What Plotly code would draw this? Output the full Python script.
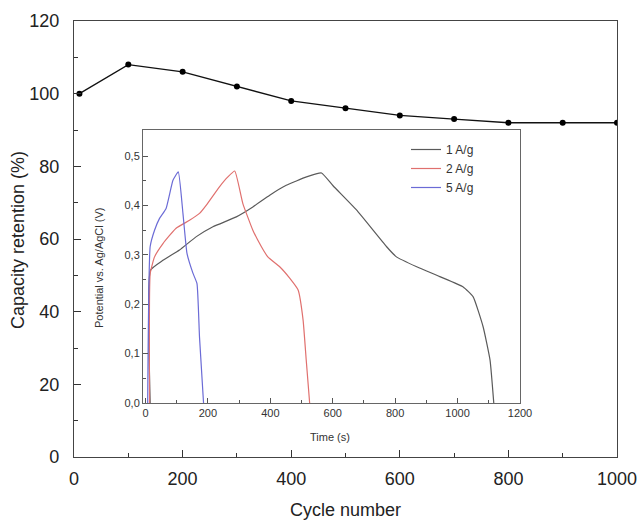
import plotly.graph_objects as go

# Main chart data
cycles = [10, 100, 200, 300, 400, 500, 600, 700, 800, 900, 1000]
retention = [100, 108, 106, 102, 98, 96, 94, 93, 92, 92, 92]

# Inset GCD curves
t_1 = [15, 16, 56, 109, 163, 216, 291, 344, 398, 451, 516, 564, 601, 676, 772, 804, 869, 943, 1018, 1050, 1082, 1104, 1116]
v_1 = [0.0, 0.269, 0.289, 0.31, 0.337, 0.357, 0.377, 0.397, 0.421, 0.441, 0.458, 0.466, 0.440, 0.391, 0.317, 0.296, 0.276, 0.256, 0.235, 0.215, 0.154, 0.087, 0.0]
t_2 = [13, 15, 29, 56, 98, 141, 173, 195, 237, 264, 286, 312, 344, 371, 392, 430, 462, 489, 505, 515, 526]
v_2 = [0.0, 0.262, 0.296, 0.323, 0.354, 0.37, 0.384, 0.401, 0.438, 0.458, 0.47, 0.404, 0.35, 0.317, 0.296, 0.276, 0.253, 0.229, 0.168, 0.087, 0.0]
t_5 = [7, 15, 29, 45, 66, 88, 105, 120, 133, 152, 165, 173, 186]
v_5 = [0.0, 0.317, 0.35, 0.374, 0.394, 0.451, 0.468, 0.384, 0.303, 0.263, 0.242, 0.134, 0.0]

series_names = ["1 A/g", "2 A/g", "5 A/g"]
series_colors = ["#5a5a5a", "#e0706e", "#6b6bd6"]

inset_yticks = [0.0, 0.1, 0.2, 0.3, 0.4, 0.5]
inset_yticktext = ["0,0", "0,1", "0,2", "0,3", "0,4", "0,5"]

FONT = "Liberation Sans, Arial, sans-serif"

fig = go.Figure()
fig.add_trace(go.Scatter(x=cycles, y=retention, mode="lines+markers",
                         line=dict(color="#111111", width=1.3),
                         marker=dict(color="#000000", size=6),
                         showlegend=False, xaxis="x", yaxis="y"))

for t, v, n, c in zip([t_1, t_2, t_5], [v_1, v_2, v_5], series_names, series_colors):
    fig.add_trace(go.Scatter(x=t, y=v, mode="lines", name=n,
                             line=dict(color=c, width=1.2, shape="spline", smoothing=0.4),
                             xaxis="x2", yaxis="y2"))

# geometry
W, H = 638, 521
L, R, T, B = 74, 21, 21, 64
pw, ph = W - L - R, H - T - B

def px_x(p):
    return (p - L) / pw

def px_y(p):
    return (H - B - p) / ph

fig.update_layout(
    width=W, height=H,
    margin=dict(l=L, r=R, t=T, b=B, autoexpand=False),
    paper_bgcolor="white", plot_bgcolor="white",
    font=dict(family=FONT, color="#222222"),
    xaxis=dict(domain=[0, 1], range=[0, 1000], tickvals=[0, 200, 400, 600, 800, 1000],
               ticks="inside", ticklen=7, tickcolor="#333", tickwidth=1,
               minor=dict(tickvals=[100, 300, 500, 700, 900], ticks="inside", ticklen=4, tickcolor="#333"),
               showline=True, linecolor="#444", linewidth=1.2, mirror=True, automargin=False,
               showgrid=False, zeroline=False, tickfont=dict(size=18, color="#222"),
               ticklabelstandoff=5),
    yaxis=dict(domain=[0, 1], range=[0, 120], tickvals=[0, 20, 40, 60, 80, 100, 120],
               ticks="inside", ticklen=7, tickcolor="#333", tickwidth=1,
               minor=dict(tickvals=[10, 30, 50, 70, 90, 110], ticks="inside", ticklen=4, tickcolor="#333"),
               showline=True, linecolor="#444", linewidth=1.2, mirror=True, automargin=False,
               showgrid=False, zeroline=False, tickfont=dict(size=18, color="#222"),
               ticklabelstandoff=10),
    xaxis2=dict(domain=[px_x(143), px_x(520)], anchor="y2", range=[-8, 1200],
                tickvals=[0, 200, 400, 600, 800, 1000, 1200],
                ticks="inside", ticklen=5, tickcolor="#555",
                minor=dict(tickvals=[100, 300, 500, 700, 900, 1100], ticks="inside", ticklen=3, tickcolor="#555"),
                showline=True, linecolor="#666", linewidth=1, mirror=True, automargin=False,
                showgrid=False, zeroline=False, tickfont=dict(size=11, color="#333")),
    yaxis2=dict(domain=[px_y(403), px_y(130)], anchor="x2", range=[0, 0.553],
                tickvals=inset_yticks, ticktext=inset_yticktext,
                ticks="inside", ticklen=5, tickcolor="#555",
                minor=dict(tickvals=[0.05, 0.15, 0.25, 0.35, 0.45], ticks="inside", ticklen=3, tickcolor="#555"),
                showline=True, linecolor="#666", linewidth=1, mirror=True, automargin=False,
                showgrid=False, zeroline=False, tickfont=dict(size=11, color="#333")),
    legend=dict(x=px_x(406), y=px_y(135), xanchor="left", yanchor="top",
                bgcolor="rgba(0,0,0,0)", font=dict(size=12, color="#333"),
                tracegroupgap=0),
    annotations=[
        dict(text="Cycle number", x=px_x(345), y=px_y(510), xref="paper", yref="paper",
             xanchor="center", yanchor="middle",
             showarrow=False, font=dict(size=18, color="#222")),
        dict(text="Capacity retention (%)", x=px_x(18), y=px_y(240), xref="paper", yref="paper",
             xanchor="center", yanchor="middle",
             showarrow=False, textangle=-90, font=dict(size=18, color="#222")),
        dict(text="Time (s)", x=px_x(330), y=px_y(437), xref="paper", yref="paper",
             xanchor="center", yanchor="middle",
             showarrow=False, font=dict(size=11, color="#333")),
        dict(text="Potential vs. Ag/AgCl (V)", x=px_x(99), y=px_y(268), xref="paper", yref="paper",
             xanchor="center", yanchor="middle",
             showarrow=False, textangle=-90, font=dict(size=11, color="#333")),
    ],
)

fig.write_html("out.html", config={"displayModeBar": False},
               post_script="document.body.style.margin='0px';document.body.style.padding='0px';")
